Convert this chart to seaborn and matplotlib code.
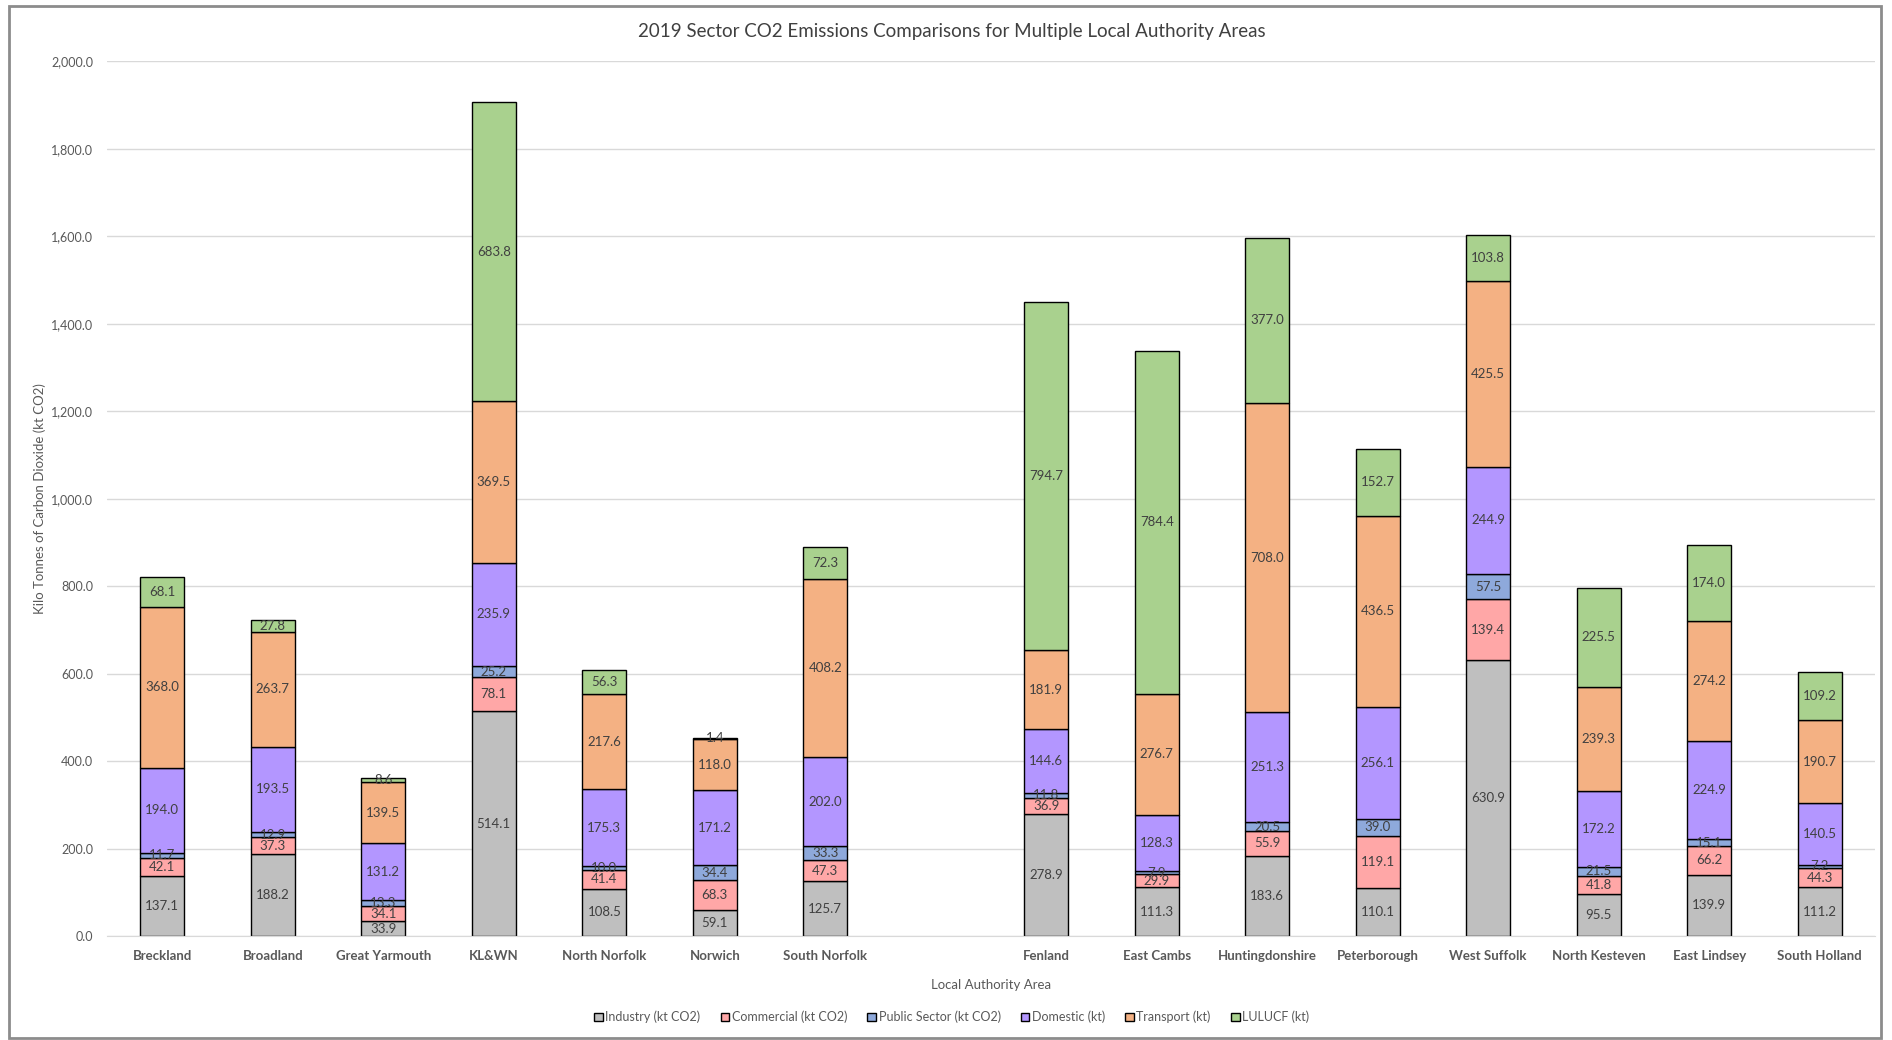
import pandas as pd
import matplotlib.pyplot as plt
import seaborn as sns
from matplotlib.patches import Patch, Rectangle

# Local authority areas (blank slot separates the two groups)
areas_west = ['Breckland', 'Broadland', 'Great Yarmouth', 'KL&WN', 'North Norfolk', 'Norwich', 'South Norfolk']
areas_east = ['Fenland', 'East Cambs', 'Huntingdonshire', 'Peterborough', 'West Suffolk',
              'North Kesteven', 'East Lindsey', 'South Holland']
areas = areas_west + areas_east

sectors = ['Industry (kt CO2)', 'Commercial (kt CO2)', 'Public Sector (kt CO2)',
           'Domestic (kt)', 'Transport (kt)', 'LULUCF (kt)']

industry = [137.1, 188.2, 33.9, 514.1, 108.5, 59.1, 125.7,
            278.9, 111.3, 183.6, 110.1, 630.9, 95.5, 139.9, 111.2]
commercial = [42.1, 37.3, 34.1, 78.1, 41.4, 68.3, 47.3,
              36.9, 29.9, 55.9, 119.1, 139.4, 41.8, 66.2, 44.3]
public_sector = [11.7, 12.9, 13.3, 25.2, 10.0, 34.4, 33.3,
                 11.8, 7.9, 20.5, 39.0, 57.5, 21.5, 15.1, 7.2]
domestic = [194.0, 193.5, 131.2, 235.9, 175.3, 171.2, 202.0,
            144.6, 128.3, 251.3, 256.1, 244.9, 172.2, 224.9, 140.5]
transport = [368.0, 263.7, 139.5, 369.5, 217.6, 118.0, 408.2,
             181.9, 276.7, 708.0, 436.5, 425.5, 239.3, 274.2, 190.7]
lulucf = [68.1, 27.8, 8.6, 683.8, 56.3, 1.4, 72.3,
          794.7, 784.4, 377.0, 152.7, 103.8, 225.5, 174.0, 109.2]

colors = ['#BFBFBF', '#FFA7A7', '#8EA9DB', '#B396FF', '#F4B183', '#A9D18E']

df = pd.DataFrame({
    'Area': areas,
    sectors[0]: industry,
    sectors[1]: commercial,
    sectors[2]: public_sector,
    sectors[3]: domestic,
    sectors[4]: transport,
    sectors[5]: lulucf,
})

sns.set_style('white')
plt.rcParams['font.family'] = ['Lato', 'DejaVu Sans']

fig = plt.figure(figsize=(18.92, 10.4), dpi=100)
ax = fig.add_axes([0.0566, 0.1, 0.9344, 0.841])

order = areas_west + [''] + areas_east
bottom = pd.Series(0.0, index=df.index)
for sector, col in zip(sectors, colors):
    sns.barplot(data=df, x='Area', y=sector, order=order, color=col, width=0.4,
                bottom=bottom.to_numpy(), edgecolor='black', linewidth=1.0,
                saturation=1, errorbar=None, ax=ax)
    bottom += df[sector]

# value labels in the middle of each segment
for cont in ax.containers:
    ax.bar_label(cont, labels=[f'{v:.1f}' for v in cont.datavalues], label_type='center',
                 fontsize=9.5, color='#404040')

ax.set_ylim(0, 2000)
ax.set_yticks(range(0, 2001, 200))
ax.set_yticklabels([f'{v:,.1f}' for v in range(0, 2001, 200)], fontsize=9, color='#595959')
ax.set_xlim(-0.5, len(order) - 0.5)
ax.set_xticks(range(len(order)))
ax.set_xticklabels(order, fontsize=9.5, fontweight='bold', color='#595959')
ax.tick_params(axis='both', length=0, pad=10)
ax.yaxis.grid(True, color='#D9D9D9', linewidth=1)
ax.set_axisbelow(True)
for s in ['top', 'right', 'left']:
    ax.spines[s].set_visible(False)
ax.spines['bottom'].set_color('#D9D9D9')

ax.set_xlabel('Local Authority Area', fontsize=9.5, color='#595959', labelpad=12)
ax.set_ylabel('Kilo Tonnes of Carbon Dioxide (kt CO2)', fontsize=9.5, color='#595959', labelpad=4)
fig.text(0.503, 0.97, '2019 Sector CO2 Emissions Comparisons for Multiple Local Authority Areas',
         ha='center', va='center', fontsize=13.5, color='#404040')

handles = [Patch(facecolor=c, edgecolor='black', label=s) for s, c in zip(sectors, colors)]
fig.legend(handles=handles, loc='center', bbox_to_anchor=(0.503, 0.022), ncol=6, frameon=False,
           fontsize=9, handlelength=0.7, handleheight=0.7, handletextpad=0.2, columnspacing=1.6,
           labelcolor='#595959')

fig.patches.append(Rectangle((0.005, 0.002), 0.989, 0.992, transform=fig.transFigure,
                             fill=False, edgecolor='#8C8C8C', linewidth=2))

plt.savefig('out.png', dpi=100)
